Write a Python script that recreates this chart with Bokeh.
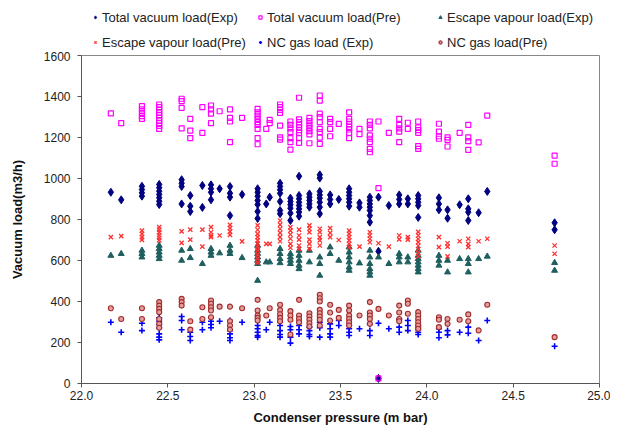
from bokeh.plotting import figure
from bokeh.layouts import column
from bokeh.models import Legend, LegendItem, FixedTicker, NumeralTickFormatter, Range1d
from bokeh.embed import file_html
from bokeh.resources import INLINE

# Condenser pressure columns (m bar)
pressure = [22.17, 22.23, 22.35, 22.45, 22.58, 22.63, 22.70, 22.75, 22.80, 22.86, 22.93,
            23.02, 23.07, 23.09, 23.15, 23.21, 23.26, 23.32, 23.38, 23.44, 23.49, 23.55,
            23.61, 23.67, 23.72, 23.78, 23.84, 23.89, 23.95, 24.07, 24.12, 24.19, 24.24,
            24.30, 24.35, 24.74]

total_exp = [[933], [896], [962, 946, 930, 914], [971, 955, 938, 922, 906, 889, 873],
             [994, 977, 961, 876], [917, 865, 839], [966, 859], [969, 950, 933, 896], [950],
             [961, 928, 909, 819], [922], [950, 933, 914, 893, 873, 839, 805], [876], [909],
             [977, 961, 945, 928, 888, 844, 828], [904, 888, 872, 855, 831, 795],
             [1011, 917, 901, 884, 868, 852, 836, 816], [925, 909, 893, 876, 860],
             [1018, 1002, 937, 920, 904, 884, 860, 828], [920, 898, 876], [898],
             [950, 933, 917, 901, 884, 865], [881, 860], [909, 893, 876, 860, 844, 819, 787],
             [909, 645, 25], [868], [920, 898, 876], [901, 876], [917, 901, 884, 868, 810],
             [906, 876, 847], [847, 806], [872], [901, 852, 836, 795], [833], [937], [784, 750]]

total_pre = [[1318], [1270], [1353, 1337, 1320, 1304, 1291],
             [1361, 1348, 1335, 1322, 1309, 1296, 1283, 1270, 1257, 1242],
             [1389, 1377, 1345, 1245], [1291, 1234, 1197], [1348, 1223], [1356, 1337, 1316, 1270],
             [1328], [1337, 1296, 1278, 1177], [1296],
             [1340, 1323, 1307, 1291, 1275, 1262, 1242, 1197, 1167], [1242], [1286, 1270],
             [1361, 1348, 1335, 1320, 1258, 1201, 1190], [1278, 1262, 1245, 1226, 1197, 1177, 1141],
             [1394, 1288, 1275, 1262, 1249, 1236, 1223, 1197, 1174],
             [1296, 1280, 1263, 1247, 1231, 1215, 1172],
             [1405, 1380, 1316, 1299, 1275, 1242, 1226, 1199, 1169], [1291, 1275, 1242, 1206],
             [1266], [1323, 1291, 1278, 1265, 1252, 1239, 1223, 1197], [1242, 1216],
             [1278, 1262, 1245, 1210, 1194, 1177, 1145, 1128], [1278, 953, 25], [1223],
             [1291, 1262, 1245, 1229, 1177], [1272, 1242], [1278, 1249, 1236, 1223, 1158, 1145],
             [1267, 1229, 1206, 1194], [1201, 1188, 1156], [1223], [1262, 1201, 1182, 1140],
             [1176], [1307], [1112, 1072]]

escape_exp = [[624], [633], [649, 633, 616], [673, 657, 640, 624, 608], [649, 600], [657, 613],
              [584], [657, 640, 624], [636], [673, 649, 633], [613],
              [673, 649, 633, 616, 600, 584, 502], [592], [592], [657, 633, 608, 588],
              [633, 616, 600, 584], [649, 624, 600, 576, 559], [649, 592], [616, 584, 527],
              [665, 633], [600], [665, 640, 616, 592, 567, 551], [587],
              [649, 616, 584, 559, 543, 527], [616], [584], [633, 616, 592], [616, 592],
              [649, 624, 608, 592, 576, 559, 543], [624, 600, 576], [600, 543], [608],
              [608, 584, 543], [608], [620], [589, 551]]

escape_pre = [[714], [719], [746, 730, 714, 701], [763, 750, 737, 723, 711, 698], [742, 686],
              [751, 702], [751, 668], [763, 738, 722, 714], [722], [774, 758, 741, 725], [693],
              [771, 750, 730, 714, 698, 681, 665, 649, 630, 610, 590], [681], [681],
              [795, 775, 755, 735, 714, 694], [763, 746, 727, 706, 681, 662],
              [751, 722, 702, 673, 657], [771, 755, 738, 702, 681, 657], [755, 738, 714, 698, 673],
              [758, 735, 714], [700], [746, 730, 714, 698, 681, 665], [668], [738, 722, 706, 689],
              [684], [668], [722, 703], [714, 702], [740, 722, 705, 690, 672, 655, 638, 620],
              [714, 665], [684, 668, 620], [694], [706, 681, 665], [694], [706], [673, 633]]

nc_exp = [[299], [250], [294, 258], [320, 304, 288, 272, 242, 226, 213], [327, 307, 262],
          [250, 229, 210], [299, 262], [320, 304, 288, 272], [304], [307, 258, 242, 223, 210],
          [299], [283, 267, 250, 234, 226], [262], [299], [299, 283, 258, 239, 226],
          [278, 262, 226, 197], [299, 283, 262, 242], [275, 258, 239, 229], [299, 272, 226],
          [291, 267, 242, 226], [307, 283], [283, 267, 250, 234], [267], [291, 258, 234], [294],
          [267], [315, 275, 250], [307, 283, 258], [283, 272, 262, 250, 239], [267, 250, 223],
          [258, 237], [250], [275, 245], [210], [307], [182]]

nc_pre = [[367], [315], [367, 315], [397, 380, 364, 348, 315, 291, 272], [413, 397, 380],
          [304, 263], [372, 315], [405, 389, 372, 356, 323], [375], [375, 304, 283, 263], [367],
          [408, 356, 332, 320, 307], [332], [367], [384, 358, 338, 320, 304],
          [353, 332, 311, 239], [408, 332, 315, 299], [343, 327, 311, 294, 278],
          [433, 416, 400, 359, 343, 327, 311, 283], [384, 346, 307], [359, 320],
          [380, 356, 332, 315, 299, 283], [332], [397, 346, 332, 315, 291], [364], [332],
          [380, 346, 315, 304], [405, 389, 340], [348, 332, 315, 299, 283, 267],
          [323, 311, 275], [315, 291], [311], [337, 304], [259], [384], [226]]

labels = ["Total vacuum load(Exp)", "Total vacuum load(Pre)", "Escape vapour load(Exp)",
          "Escape vapour load(Pre)", "NC gas load (Exp)", "NC gas load(Pre)"]
y_ticks = [0, 200, 400, 600, 800, 1000, 1200, 1400, 1600]
x_ticks = [22.0, 22.5, 23.0, 23.5, 24.0, 24.5, 25.0]


def flatten(cols):
    xs, ys = [], []
    for px, vals in zip(pressure, cols):
        for v in vals:
            xs.append(px)
            ys.append(v)
    return xs, ys


FONT = "Liberation Sans"
W = 610
LEFT = 81
RIGHT = 11

styles = [
    dict(marker="diamond", size=8, fill_color="#000080", line_color="#000080"),
    dict(marker="square", size=5, fill_color=None, line_color="#FF00FF", line_width=1.2),
    dict(marker="triangle", size=6, fill_color="#1F5F5F", line_color="#1F5F5F"),
    dict(marker="x", size=6, line_color="#FF3030", line_width=1.3),
    dict(marker="cross", size=6, line_color="#0000FF", line_width=1.6),
    dict(marker="circle", size=5, fill_color="#E0A0A0", line_color="#A52A2A", line_width=1.1),
]
series = [total_exp, total_pre, escape_exp, escape_pre, nc_exp, nc_pre]

# ---- legend strip above the chart ----
leg_fig = figure(width=W, height=51, output_backend="svg", toolbar_location=None,
                 x_axis_type=None, y_axis_type=None, x_range=Range1d(0, 1), y_range=Range1d(0, 1),
                 min_border_left=LEFT, min_border_right=RIGHT, min_border_top=0, min_border_bottom=0)
leg_fig.outline_line_color = None
leg_fig.xgrid.visible = False
leg_fig.ygrid.visible = False
# swatch-only renderers, placed outside the visible range
leg_renderers = [leg_fig.scatter(x=[-5], y=[-5], **st) for st in styles]

col_x = [10, 175, 355]
for c in range(3):
    idx = [c, c + 3]
    lg = Legend(items=[LegendItem(label=labels[i], renderers=[leg_renderers[i]]) for i in idx],
                location=(col_x[c], 0), orientation="vertical")
    lg.label_text_font = FONT
    lg.label_text_font_size = "13px"
    lg.label_text_color = "#222222"
    lg.border_line_color = None
    lg.background_fill_alpha = 0
    lg.glyph_width = 8
    lg.glyph_height = 18
    lg.label_height = 18
    lg.label_standoff = 3
    lg.spacing = 7
    lg.margin = 0
    lg.padding = 0
    leg_fig.add_layout(lg, "center")

# ---- main chart ----
p = figure(width=W, height=382, output_backend="svg", toolbar_location=None,
           x_range=Range1d(22, 25), y_range=Range1d(0, 1600),
           min_border_left=LEFT, min_border_right=RIGHT, min_border_top=4, min_border_bottom=50)
p.xgrid.visible = False
p.ygrid.visible = False
p.outline_line_color = "#888888"

for data, st in zip(series, styles):
    xs, ys = flatten(data)
    p.scatter(xs, ys, **st)

p.xaxis.ticker = FixedTicker(ticks=x_ticks)
p.yaxis.ticker = FixedTicker(ticks=y_ticks)
p.xaxis.formatter = NumeralTickFormatter(format="0.0")
for ax in (p.xaxis, p.yaxis):
    ax.major_label_text_font = FONT
    ax.major_label_text_font_size = "12px"
    ax.major_label_text_color = "#222222"
    ax.axis_line_color = "#555555"
    ax.major_tick_line_color = "#555555"
    ax.major_tick_out = 4
    ax.major_tick_in = 0
    ax.minor_tick_line_color = None
    ax.axis_label_text_font = FONT
    ax.axis_label_text_font_size = "13px"
    ax.axis_label_text_font_style = "bold"
    ax.axis_label_text_color = "#111111"
p.xaxis.major_label_standoff = 3
p.yaxis.major_label_standoff = 7
p.xaxis.axis_label = "Condenser pressure (m bar)"
p.yaxis.axis_label = "Vacuum load(m3/h)"
p.xaxis.axis_label_standoff = 7
p.yaxis.axis_label_standoff = 16

layout = column(leg_fig, p, spacing=0)
open("out.html", "w").write(file_html(layout, INLINE))
